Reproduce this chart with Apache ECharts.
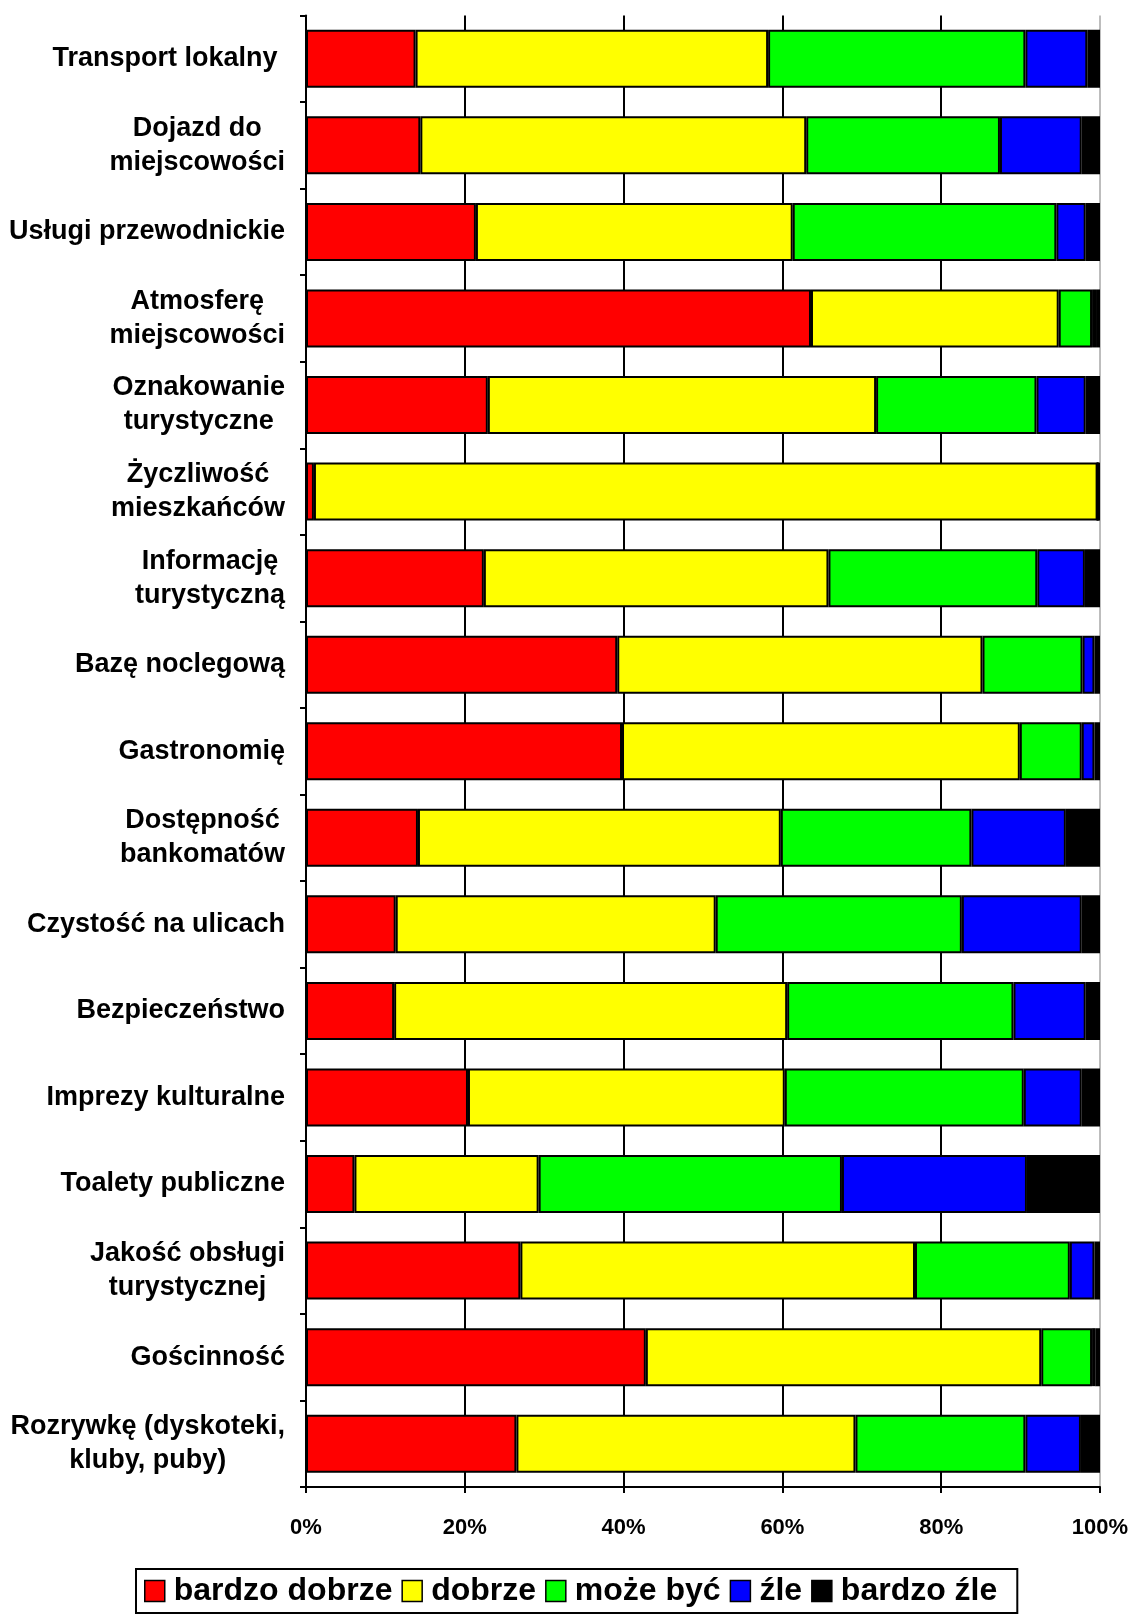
<!DOCTYPE html>
<html>
<head>
<meta charset="utf-8">
<script src="https://cdn.jsdelivr.net/npm/echarts@6/dist/echarts.min.js"></script>
<style>
html,body{margin:0;padding:0;background:#fff;}
#chart{width:1135px;height:1619px;}
</style>
</head>
<body>
<div id="chart"></div>
<script>
const categories = [
  'Transport lokalny ', 'Dojazd do\nmiejscowości', 'Usługi przewodnickie',
  'Atmosferę\nmiejscowości', 'Oznakowanie\nturystyczne', 'Życzliwość\nmieszkańców',
  'Informację\nturystyczną', 'Bazę noclegową', 'Gastronomię', 'Dostępność\nbankomatów',
  'Czystość na ulicach', 'Bezpieczeństwo', 'Imprezy kulturalne', 'Toalety publiczne',
  'Jakość obsługi\nturystycznej', 'Gościnność', 'Rozrywkę (dyskoteki,\nkluby, puby)'
];
const seriesNames = ['bardzo dobrze', 'dobrze', 'może być', 'źle', 'bardzo źle'];
const veryGood = [13.8,14.4,21.4,63.6,22.9,1.0,22.4,39.2,39.8,14.1,11.3,11.1,20.4,6.1,27.0,42.8,26.5];
const good     = [44.4,48.6,39.9,31.2,48.9,98.7,43.4,46.0,50.1,45.7,40.3,49.5,39.9,23.2,49.7,49.8,42.7];
const okay     = [32.4,24.4,33.2,4.2,20.2,0,26.3,12.6,7.8,24.0,31.0,28.5,30.1,38.2,19.5,6.4,21.4];
const bad      = [7.8,10.3,3.7,0.5,6.2,0,6.0,1.5,1.6,11.9,15.1,9.1,7.3,23.3,3.1,0.4,7.0];
const veryBad  = [1.6,2.3,1.8,0.5,1.8,0.3,1.9,0.7,0.7,4.3,2.3,1.8,2.3,9.2,0.7,0.6,2.4];
const xTicks = [0, 20, 40, 60, 80, 100];

const colors = ['#FF0000', '#FFFF00', '#00FF00', '#0000FF', '#000000'];
const allData = [veryGood, good, okay, bad, veryBad];
const FONT = "'Liberation Sans', Arial, sans-serif";

const chart = echarts.init(document.getElementById('chart'), null, {renderer: 'canvas'});
const option = {
  backgroundColor: '#ffffff',
  animation: false,
  grid: {left: 306, right: 35, top: 15.5, bottom: 132, containLabel: false},
  legend: {
    data: seriesNames,
    orient: 'horizontal',
    left: 136,
    top: 1569,
    icon: 'rect',
    itemWidth: 20,
    itemHeight: 21,
    itemGap: 9,
    padding: [6, 20, 6, 8],
    borderColor: '#000',
    borderWidth: 2,
    borderRadius: 0,
    textStyle: {fontFamily: FONT, fontWeight: 'bold', fontSize: 32, color: '#000', padding: [0, 0, 0, 4]},
    itemStyle: {borderColor: '#000', borderWidth: 1.5}
  },
  xAxis: {
    type: 'value',
    min: xTicks[0],
    max: xTicks[xTicks.length - 1],
    interval: xTicks[1] - xTicks[0],
    axisLine: {show: true, lineStyle: {color: '#000', width: 2}},
    axisTick: {show: true, length: 6, lineStyle: {color: '#000', width: 2}},
    axisLabel: {
      formatter: '{value}%', margin: 30,
      fontFamily: FONT, fontWeight: 'bold', fontSize: 22, color: '#000'
    },
    splitLine: {show: true, lineStyle: {color: ['#000','#000','#000','#000','#000','#bdbdbd'], width: 2}}
  },
  yAxis: {
    type: 'category',
    data: categories,
    inverse: true,
    axisLine: {show: true, lineStyle: {color: '#000', width: 2}},
    axisTick: {show: true, length: 6, lineStyle: {color: '#000', width: 2}},
    axisLabel: {
      margin: 21,
      formatter: function (v) {
        return v.split('\n').map(function (s) { return '{c|' + s + '}'; }).join('\n');
      },
      rich: {
        c: {align: 'center', fontFamily: FONT, fontWeight: 'bold', fontSize: 27, lineHeight: 34, color: '#000'}
      }
    }
  },
  series: seriesNames.map(function (name, i) {
    return {
      name: name,
      type: 'bar',
      stack: 'total',
      barCategoryGap: '33%',
      data: allData[i],
      itemStyle: {color: colors[i], borderColor: '#000', borderWidth: 2},
      emphasis: {disabled: true}
    };
  })
};
chart.setOption(option);
</script>
</body>
</html>
